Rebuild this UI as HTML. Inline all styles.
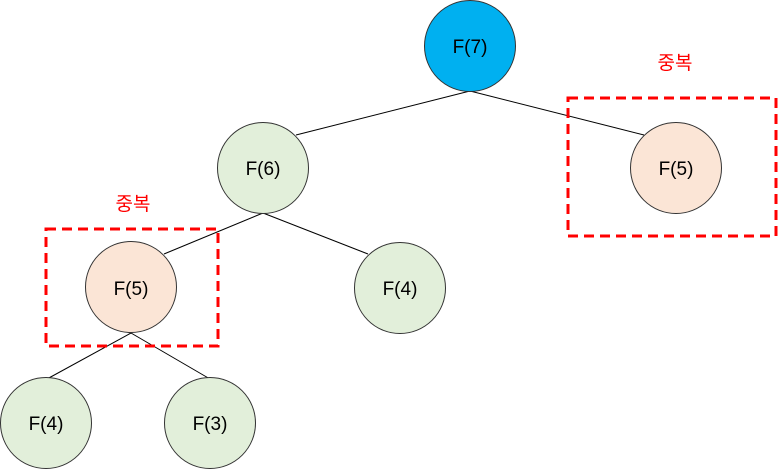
<!DOCTYPE html>
<html><head><meta charset="utf-8"><style>
html,body{margin:0;padding:0;background:#fff;}
svg{display:block;}
text{font-family:"Liberation Sans","Noto Sans CJK KR",sans-serif;}
</style></head><body>
<svg width="778" height="469" viewBox="0 0 778 469" xmlns="http://www.w3.org/2000/svg">
<g stroke="#000" stroke-width="1">
<line x1="470" y1="91" x2="296" y2="135"/>
<line x1="470" y1="91" x2="644" y2="135"/>
<line x1="263" y1="213" x2="164" y2="254"/>
<line x1="263" y1="213" x2="368" y2="254"/>
<line x1="131" y1="333" x2="47" y2="379"/>
<line x1="131" y1="333" x2="210" y2="379"/>
</g>
<g stroke="#333" stroke-width="1">
<circle cx="470" cy="46" r="45.5" fill="#00b0f0"/>
<circle cx="263" cy="168" r="45.5" fill="#e2efda"/>
<circle cx="676" cy="168" r="45.5" fill="#fbe5d6"/>
<circle cx="131" cy="287" r="45.5" fill="#fbe5d6"/>
<circle cx="400" cy="288" r="45.5" fill="#e2efda"/>
<circle cx="46" cy="423" r="45.5" fill="#e2efda"/>
<circle cx="210" cy="423" r="45.5" fill="#e2efda"/>
</g>
<g fill="none" stroke="#ff0000" stroke-width="3" stroke-dasharray="10,6">
<rect x="568" y="98" width="208" height="138"/>
<rect x="46" y="229" width="172" height="117"/>
</g>
<g font-size="19" text-anchor="middle" fill="#000">
<text x="470" y="53">F(7)</text>
<text x="263" y="175">F(6)</text>
<text x="676" y="175">F(5)</text>
<text x="131" y="295">F(5)</text>
<text x="400" y="295">F(4)</text>
<text x="46" y="430">F(4)</text>
<text x="210" y="430">F(3)</text>
</g>
<g font-size="19" text-anchor="middle" fill="#ff0000">
<text x="675" y="69">중복</text>
<text x="133" y="210">중복</text>
</g>
</svg>
</body></html>
